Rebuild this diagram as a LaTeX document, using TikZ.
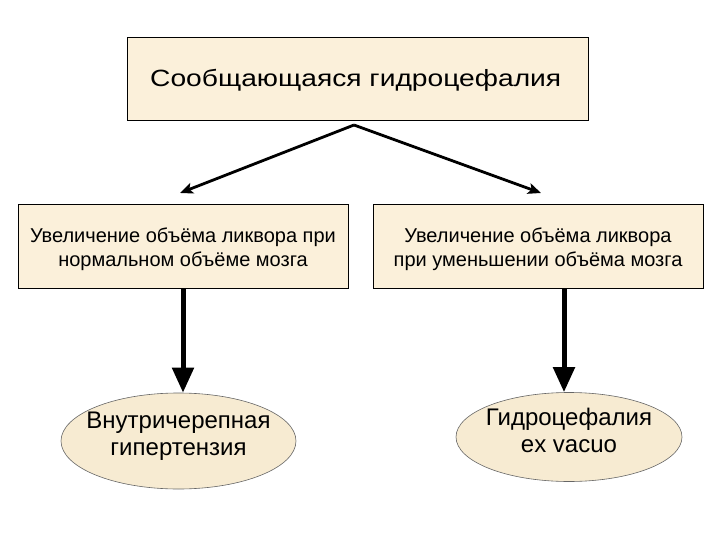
\documentclass[tikz,border=0pt]{standalone}
\usepackage{fontspec}
\setmainfont{Liberation Sans}
\newfontfamily\widefont[FakeStretch=1.2]{Liberation Sans}
\usetikzlibrary{shapes.geometric,arrows.meta}
\definecolor{boxfill}{HTML}{FBF0DA}
\definecolor{ellfill}{HTML}{F7EBD2}
\tikzset{
  box/.style={draw=black, line width=0.8bp, fill=boxfill, inner sep=0pt},
  midtext/.style={align=center, inner sep=0pt, font=\fontsize{20bp}{24bp}\selectfont},
  oval/.style={ellipse, draw=black!60, line width=0.6bp, fill=ellfill, inner sep=0pt},
  ovaltext/.style={align=center, inner sep=0pt, font=\fontsize{24bp}{27bp}\selectfont},
  thin arrow/.style={line width=2.8bp, -{Stealth[length=13bp,width=11bp,inset=3bp]}},
  thick arrow/.style={line width=5bp, -{Triangle[length=25bp,width=21bp]}},
}
\begin{document}
\begin{tikzpicture}[x=1bp,y=-1bp]
\useasboundingbox (0,0) rectangle (720,540);
\node[box, minimum width=461bp, minimum height=83bp] (top) at (357.5,78.5) {};
\node[font=\widefont\fontsize{23.5bp}{27bp}\selectfont, anchor=base west, inner sep=0pt] (toptext) at (150,87) {Сообщающаяся гидроцефалия};
\node[box, minimum width=330bp, minimum height=84bp] (left) at (183,246) {};
\node[midtext] (lefttext) at (183,249) {Увеличение объёма ликвора при\\нормальном объёме мозга};
\node[box, minimum width=330bp, minimum height=84bp] (right) at (538,246) {};
\node[midtext] (righttext) at (538,249) {Увеличение объёма ликвора\\при уменьшении объёма мозга};
\node[oval, minimum width=235bp, minimum height=96bp] (el) at (178.5,441) {};
\node[ovaltext] (eltext) at (178.5,436) {Внутричерепная\\гипертензия};
\node[oval, minimum width=226bp, minimum height=89bp] (er) at (569,437) {};
\node[ovaltext] (ertext) at (569,430) {Гидроцефалия\\ex vacuo};
\coordinate (apex) at (354,125);
\coordinate (lt) at (180,193);
\coordinate (rt) at (541,193);
\draw[thin arrow] (apex) -- (lt);
\draw[thin arrow] (apex) -- (rt);
\draw[thick arrow] (left.south -| 183,0) -- (el.north -| 183,0);
\draw[thick arrow] (right.south -| 564,0) -- (er.north -| 564,0);
\end{tikzpicture}
\end{document}
